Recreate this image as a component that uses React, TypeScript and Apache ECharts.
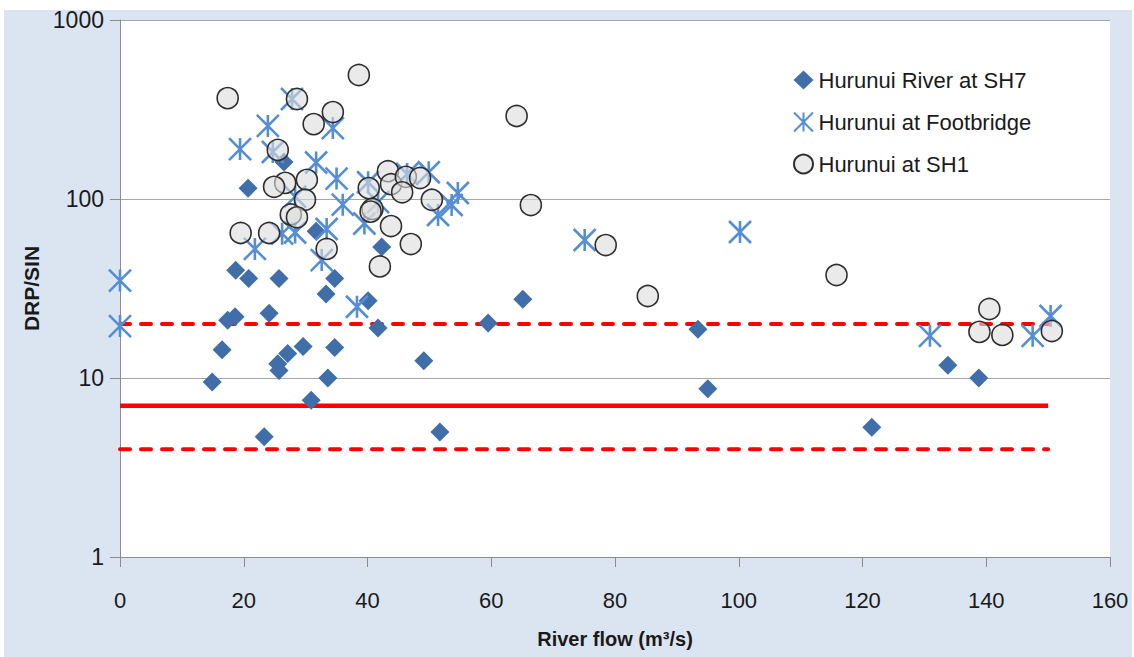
import React, { useEffect, useRef } from "react";
import * as echarts from "echarts";

// Hurunui River at SH7
const sh7Flow = [20.7, 26.5, 18.7, 20.8, 25.7, 31.7, 42.3, 34.7, 33.3, 40.1, 65.1, 24.1, 17.4, 18.6, 59.5, 41.7, 93.4, 16.5, 29.6, 34.7, 27.1, 25.5, 25.7, 49.1, 14.9, 33.6, 30.9, 95.0, 133.8, 138.8, 121.5, 23.3, 51.7];
const sh7Ratio = [115, 161, 40, 36, 36, 66, 54, 36, 29.5, 27, 27.5, 23, 21, 22, 20.3, 19, 18.7, 14.4, 15, 14.8, 13.7, 12, 11, 12.5, 9.5, 10, 7.5, 8.7, 11.8, 10, 5.3, 4.7, 5];

// Hurunui at Footbridge
const fbFlow = [0, 0, 19.4, 23.9, 24.7, 27.8, 34.4, 31.7, 35, 21.8, 26.2, 28.3, 33.4, 32.6, 36, 39.5, 41.7, 40.1, 46.4, 49.9, 51.4, 53.6, 54.6, 38.3, 75.1, 100.2, 130.9, 147.5, 150.4, 28.3];
const fbRatio = [35, 19.5, 190, 256, 183, 362, 249, 160, 130, 52.6, 64, 65, 68, 45.6, 93, 73, 96, 124, 138, 141, 81.4, 92.6, 108, 25, 59, 65.4, 17.2, 17.2, 22.2, 103];

// Hurunui at SH1
const sh1Flow = [17.4, 28.6, 38.6, 34.4, 31.3, 64.1, 25.5, 26.7, 24.9, 30.2, 29.9, 27.6, 28.6, 19.5, 24.1, 33.4, 43.3, 43.8, 46.2, 48.5, 45.6, 40.2, 50.4, 40.8, 40.5, 43.8, 47, 42, 66.4, 78.5, 85.3, 115.8, 140.5, 138.9, 142.6, 150.6];
const sh1Ratio = [366, 362, 493, 306, 262, 291, 188, 123, 117, 128, 99, 82, 79, 64.6, 64.6, 52.6, 143, 121, 133, 131, 109, 115, 99, 88, 85, 70.6, 56, 42, 92.5, 55.3, 28.7, 37.6, 24.3, 18.1, 17.4, 18.3];

// Reference lines
const guideFlow = [0, 150];
const guideMid = 7;
const guideUpper = 20;
const guideLower = 4;

const seriesNames = ["Hurunui River at SH7", "Hurunui at Footbridge", "Hurunui at SH1"];
const xTicks = { min: 0, max: 160, interval: 20 };
const yTicks = { min: 1, max: 1000 };

const zip = (xs: number[], ys: number[]) => xs.map((x, i) => [x, ys[i]]);
const hLine = (v: number) => guideFlow.map((x) => [x, v]);

const STAR = "path://M0,0L20,20M20,0L0,20M10,0L10,20";

export default function App() {
  const ref = useRef<HTMLDivElement>(null);
  useEffect(() => {
    if (!ref.current) return;
    const chart = echarts.init(ref.current, null, { renderer: "svg" });
    const font = "'Liberation Sans', Arial, sans-serif";
    chart.setOption({
      animation: false,
      grid: {
        left: 120,
        top: 20,
        right: 24,
        bottom: 100,
        show: true,
        backgroundColor: "#ffffff",
        borderWidth: 0,
      },
      legend: {
        data: seriesNames,
        orient: "vertical",
        left: 788,
        top: 64,
        itemWidth: 20,
        itemHeight: 19,
        itemGap: 20,
        textStyle: { fontFamily: font, fontSize: 22, color: "#1a1a1a", lineHeight: 22 },
      },
      xAxis: {
        type: "value",
        min: xTicks.min,
        max: xTicks.max,
        interval: xTicks.interval,
        name: "River flow (m³/s)",
        nameLocation: "middle",
        nameGap: 72,
        nameTextStyle: { fontFamily: font, fontSize: 20, fontWeight: "bold", color: "#1a1a1a" },
        axisLine: { show: true, lineStyle: { color: "#8c8c8c", width: 1 } },
        axisTick: { show: true, length: 10, lineStyle: { color: "#8c8c8c" } },
        axisLabel: { fontFamily: font, fontSize: 22, color: "#1a1a1a", margin: 32 },
        splitLine: { show: false },
      },
      yAxis: {
        type: "log",
        logBase: 10,
        min: yTicks.min,
        max: yTicks.max,
        name: "DRP/SIN",
        nameLocation: "middle",
        nameGap: 78,
        nameTextStyle: { fontFamily: font, fontSize: 21, fontWeight: "bold", color: "#1a1a1a" },
        axisLine: { show: true, lineStyle: { color: "#8c8c8c", width: 1 } },
        axisTick: { show: true, length: 10, lineStyle: { color: "#8c8c8c" } },
        axisLabel: { fontFamily: font, fontSize: 23, color: "#1a1a1a", margin: 16, formatter: (v: number) => String(Math.round(v)) },
        splitLine: { show: true, lineStyle: { color: "#a6a6a6", width: 1 } },
        minorTick: { show: false },
        minorSplitLine: { show: false },
      },
      series: [
        {
          name: seriesNames[0],
          type: "scatter",
          symbol: "diamond",
          symbolSize: 19,
          data: zip(sh7Flow, sh7Ratio),
          itemStyle: { color: "#3f6ea8", opacity: 1 },
          z: 3,
        },
        {
          name: seriesNames[1],
          type: "scatter",
          symbol: STAR,
          symbolSize: 22,
          data: zip(fbFlow, fbRatio),
          itemStyle: { color: "rgba(0,0,0,0)", borderColor: "#558ed5", borderWidth: 2.6, opacity: 1 },
          z: 4,
        },
        {
          name: seriesNames[2],
          type: "scatter",
          symbol: "circle",
          symbolSize: 21,
          data: zip(sh1Flow, sh1Ratio),
          itemStyle: { color: "rgba(220,220,220,0.6)", borderColor: "#2e2e2e", borderWidth: 1.6, opacity: 1 },
          z: 5,
        },
        {
          name: "mid",
          type: "line",
          data: hLine(guideMid),
          symbol: "none",
          lineStyle: { color: "#ff0000", width: 4.5 },
          z: 2,
          silent: true,
        },
        {
          name: "upper",
          type: "line",
          data: hLine(guideUpper),
          symbol: "none",
          lineStyle: { color: "#ff0000", width: 4, type: [10, 11], cap: "round" },
          z: 2,
          silent: true,
        },
        {
          name: "lower",
          type: "line",
          data: hLine(guideLower),
          symbol: "none",
          lineStyle: { color: "#ff0000", width: 4, type: [10, 11], cap: "round" },
          z: 2,
          silent: true,
        },
      ],
    });
    return () => chart.dispose();
  }, []);

  return (
    <div style={{ position: "fixed", left: 0, top: 0, width: 1134, height: 657, background: "#ffffff" }}>
      <div style={{ position: "absolute", left: 4, top: 10, width: 1128, height: 647, background: "#dbe5f1" }} />
      <div ref={ref} style={{ position: "absolute", left: 0, top: 0, width: 1134, height: 657 }} />
    </div>
  );
}
